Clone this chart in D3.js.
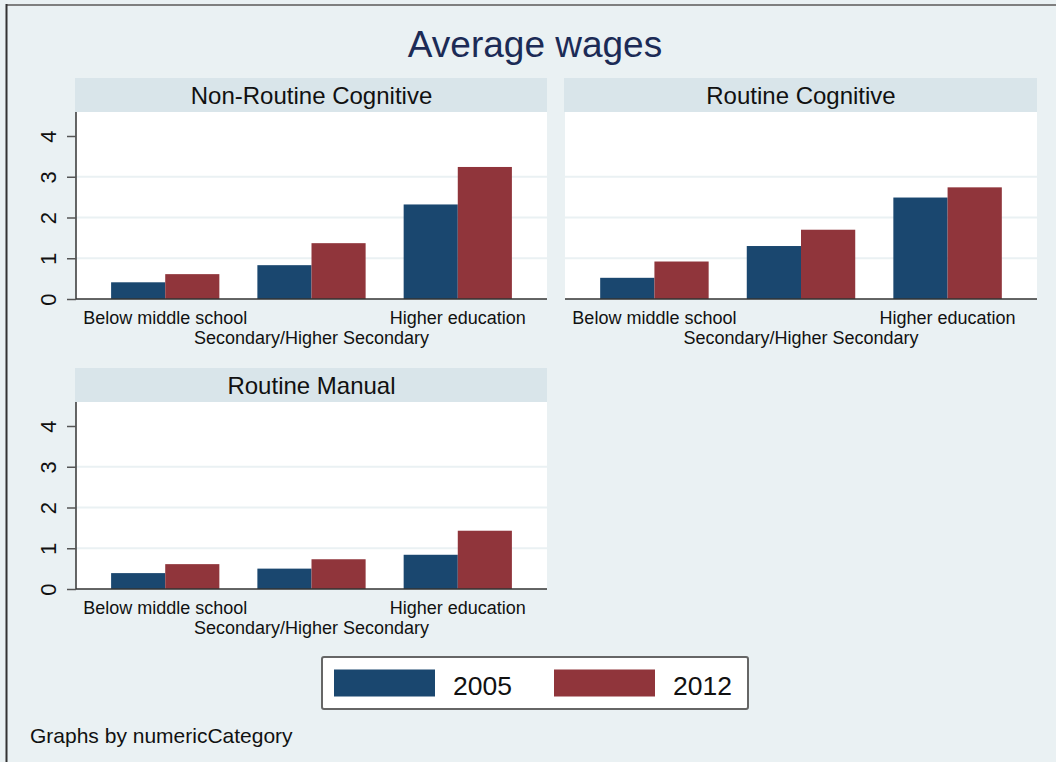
<!DOCTYPE html>
<html>
<head>
<meta charset="utf-8">
<script src="https://cdn.jsdelivr.net/npm/d3@7"></script>
<style>
  html, body { margin: 0; padding: 0; background: #eaf1f3; }
  svg { display: block; font-family: "Liberation Sans", Arial, Helvetica, sans-serif; }
</style>
</head>
<body>
<svg width="1056" height="762"></svg>
<script>
// data
var categories = ["Non-Routine Cognitive", "Routine Cognitive", "Routine Manual"];
var education = ["Below middle school", "Secondary/Higher Secondary", "Higher education"];
var years = ["2005", "2012"];
var wages2005 = [[0.41, 0.83, 2.32], [0.52, 1.30, 2.49], [0.39, 0.50, 0.84]];
var wages2012 = [[0.61, 1.37, 3.24], [0.92, 1.70, 2.74], [0.61, 0.73, 1.43]];
var yTicks = [0, 1, 2, 3, 4];

var colors = {"2005": "#1a476f", "2012": "#90353b"};

var svg = d3.select("svg");

// background + frame
svg.append("rect").attr("width", 1056).attr("height", 762).attr("fill", "#eaf1f3");
svg.append("line").attr("x1", 6).attr("x2", 1056).attr("y1", 5).attr("y2", 5)
    .attr("stroke", "#7f7f7f").attr("stroke-width", 2);
svg.append("line").attr("x1", 6.5).attr("x2", 6.5).attr("y1", 4).attr("y2", 762)
    .attr("stroke", "#333").attr("stroke-width", 2);

svg.append("text")
    .attr("x", 535).attr("y", 57)
    .attr("text-anchor", "middle")
    .style("font-size", "37px")
    .attr("fill", "#1c2b56")
    .text("Average wages");

var plotH = 187, stripH = 34;
var panels = [
  {x0: 76, x1: 547, top: 112, yaxis: true},
  {x0: 565, x1: 1037, top: 112, yaxis: false},
  {x0: 76, x1: 547, top: 402, yaxis: true}
];

var y = d3.scaleLinear().domain([0, 187 / 40.75]).range([plotH, 0]);

categories.forEach(function(cat, ci) {
  var p = panels[ci];
  var w = p.x1 - p.x0;
  var g = svg.append("g").attr("transform", "translate(" + p.x0 + "," + p.top + ")");

  var x0 = d3.scaleBand().domain(education).range([0, w]).paddingInner(0.26).paddingOuter(0.24);
  var x1 = d3.scaleBand().domain(years).range([0, x0.bandwidth()]);

  // strip
  g.append("rect").attr("x", -1).attr("y", -stripH).attr("width", w + 1).attr("height", stripH)
      .attr("fill", "#d9e5ea");
  g.append("text")
      .attr("x", w / 2).attr("y", -stripH / 2 + 8.5)
      .attr("text-anchor", "middle")
      .style("font-size", "24px")
      .attr("fill", "#111")
      .text(cat);

  // plot region
  g.append("rect").attr("width", w).attr("height", plotH).attr("fill", "#fff");

  g.selectAll(".grid")
      .data(yTicks.filter(function(t) { return t > 0 && t < 4; }))
      .enter().append("line")
      .attr("x1", 0).attr("x2", w)
      .attr("y1", function(d) { return y(d); }).attr("y2", function(d) { return y(d); })
      .attr("stroke", "#eaf1f3").attr("stroke-width", 2);

  var rows = education.map(function(ed, i) {
    return [{ed: ed, year: "2005", v: wages2005[ci][i]}, {ed: ed, year: "2012", v: wages2012[ci][i]}];
  });

  g.selectAll(".grp")
      .data(rows)
      .enter().append("g")
      .attr("transform", function(d) { return "translate(" + x0(d[0].ed) + ",0)"; })
      .selectAll("rect")
      .data(function(d) { return d; })
      .enter().append("rect")
      .attr("x", function(d) { return x1(d.year); })
      .attr("width", x1.bandwidth())
      .attr("y", function(d) { return y(d.v); })
      .attr("height", function(d) { return plotH - y(d.v); })
      .attr("fill", function(d) { return colors[d.year]; });

  // x axis
  g.append("line").attr("x1", 0).attr("x2", w).attr("y1", plotH).attr("y2", plotH)
      .attr("stroke", "#333").attr("stroke-width", 1.5);
  g.selectAll(".xl")
      .data(education)
      .enter().append("text")
      .attr("x", function(d) { return x0(d) + x0.bandwidth() / 2; })
      .attr("y", function(d, i) { return plotH + (i % 2 ? 44.5 : 24.5); })
      .attr("text-anchor", "middle")
      .style("font-size", "18px")
      .attr("fill", "#111")
      .text(function(d) { return d; });

  // y axis
  if (p.yaxis) {
    var ax = g.append("g")
        .call(d3.axisLeft(y).tickValues(yTicks).tickSize(9).tickFormat(d3.format("d")));
    ax.select(".domain").attr("stroke", "#333").attr("stroke-width", 1.5)
        .attr("d", "M0," + plotH + "V0");
    ax.selectAll(".tick line").attr("stroke", "#555").attr("stroke-width", 1.5);
    ax.selectAll(".tick text")
        .attr("x", null).attr("dy", null)
        .attr("transform", "translate(-20,0) rotate(-90)")
        .attr("text-anchor", "middle")
        .style("font-size", "22px")
        .style("font-family", "'Liberation Sans', Arial, sans-serif")
        .attr("fill", "#111");
  }
});

// legend
var lg = svg.append("g").attr("transform", "translate(322,657)");
lg.append("rect").attr("width", 426).attr("height", 52).attr("rx", 2)
    .attr("fill", "#fff").attr("stroke", "#666").attr("stroke-width", 2);
var item = lg.selectAll(".item")
    .data(years)
    .enter().append("g")
    .attr("transform", function(d, i) { return "translate(" + (12 + i * 220) + ",0)"; });
item.append("rect").attr("y", 12.5).attr("width", 101).attr("height", 27)
    .attr("fill", function(d) { return colors[d]; });
item.append("text")
    .attr("x", 119).attr("y", 37.5)
    .style("font-size", "26.5px")
    .attr("fill", "#111")
    .text(function(d) { return d; });

svg.append("text")
    .attr("x", 30).attr("y", 743)
    .style("font-size", "21px")
    .attr("fill", "#111")
    .text("Graphs by numericCategory");
</script>
</body>
</html>
